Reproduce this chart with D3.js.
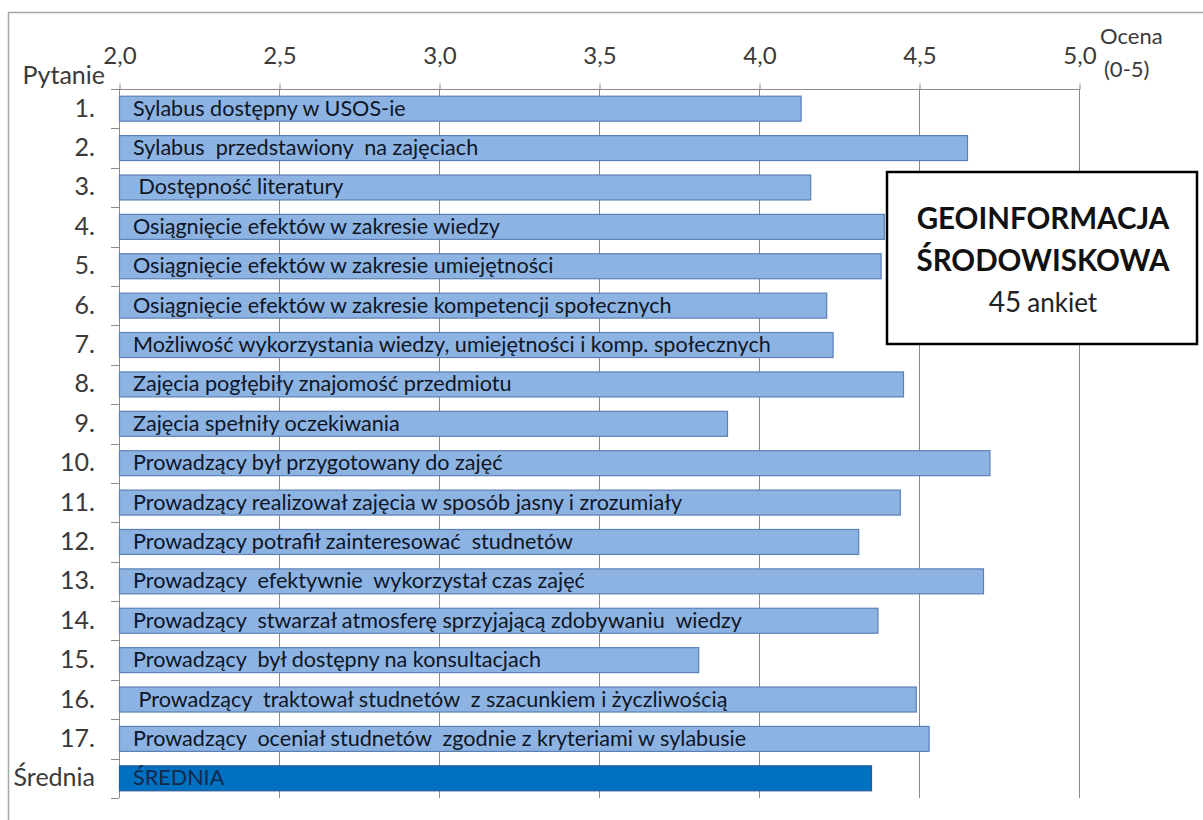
<!DOCTYPE html>
<html>
<head>
<meta charset="utf-8">
<script src="https://cdn.jsdelivr.net/npm/d3@7/dist/d3.min.js"></script>
<style>
  html, body { margin: 0; padding: 0; background: #fff; }
  svg { display: block; }
  text { font-family: Lato, "Open Sans", sans-serif; white-space: pre; }
</style>
</head>
<body>
<svg id="chart" width="1203" height="820"></svg>
<script>
// ---- data ----
const rowLabels = ["1.", "2.", "3.", "4.", "5.", "6.", "7.", "8.", "9.", "10.", "11.", "12.", "13.", "14.", "15.", "16.", "17.", "Średnia"];
const questions = [
  "Sylabus dostępny w USOS-ie",
  "Sylabus  przedstawiony  na zajęciach",
  " Dostępność literatury",
  "Osiągnięcie efektów w zakresie wiedzy",
  "Osiągnięcie efektów w zakresie umiejętności",
  "Osiągnięcie efektów w zakresie kompetencji społecznych",
  "Możliwość wykorzystania wiedzy, umiejętności i komp. społecznych",
  "Zajęcia pogłębiły znajomość przedmiotu",
  "Zajęcia spełniły oczekiwania",
  "Prowadzący był przygotowany do zajęć",
  "Prowadzący realizował zajęcia w sposób jasny i zrozumiały",
  "Prowadzący potrafił zainteresować  studnetów",
  "Prowadzący  efektywnie  wykorzystał czas zajęć",
  "Prowadzący  stwarzał atmosferę sprzyjającą zdobywaniu  wiedzy",
  "Prowadzący  był dostępny na konsultacjach",
  " Prowadzący  traktował studnetów  z szacunkiem i życzliwością",
  "Prowadzący  oceniał studnetów  zgodnie z kryteriami w sylabusie",
  "ŚREDNIA"
];
const scores = [4.13, 4.65, 4.16, 4.39, 4.38, 4.21, 4.23, 4.45, 3.90, 4.72, 4.44, 4.31, 4.70, 4.37, 3.81, 4.49, 4.53, 4.35];
const xTicks = [2.0, 2.5, 3.0, 3.5, 4.0, 4.5, 5.0];
const xDomain = [2, 5];
const yAxisTitle = "Pytanie";
const xAxisTitle = ["Ocena", "(0-5)"];
const boxTitle = ["GEOINFORMACJA", "ŚRODOWISKOWA"];
const surveyCount = "45";
const surveyWord = "ankiet";

(function () {
const rows = rowLabels.map((r, i) => ({ row: r, text: questions[i], value: scores[i], avg: i === rowLabels.length - 1 }));

// ---- layout ----
const svg = d3.select("#chart");
const mLeft = 119, mRight = 1079, mTop = 89, mBottom = 798;

// outer frame
svg.append("rect").attr("x", 8.5).attr("y", 12.5).attr("width", 1300).attr("height", 900)
  .attr("fill", "none").attr("stroke", "#a6a6a6").attr("stroke-width", 1.5);

const x = d3.scaleLinear().domain(xDomain).range([mLeft, mRight]);
const y = d3.scaleBand().domain(rowLabels).range([mTop, mBottom]).paddingInner(0.366).paddingOuter(0.183);

const gridColor = "#8a8a8a";
const labelColor = "#3a3a3a";

// gridlines
svg.append("g").selectAll("line").data(xTicks).join("line")
  .attr("x1", d => x(d) + 0.5).attr("x2", d => x(d) + 0.5)
  .attr("y1", mTop).attr("y2", mBottom)
  .attr("stroke", gridColor).attr("stroke-width", 1);

// top axis
const fmt = d => d3.format(".1f")(d).replace(".", ",");
const xAxis = svg.append("g").attr("transform", `translate(0.5,${mTop + 0.5})`)
  .call(d3.axisTop(x).tickValues(xTicks).tickFormat(fmt).tickSize(6).tickPadding(20));
xAxis.select(".domain").attr("stroke", gridColor).attr("d", `M${mLeft},0H${mRight}`);
xAxis.selectAll(".tick line").attr("stroke", gridColor);
xAxis.selectAll(".tick text").attr("font-size", 24).attr("fill", labelColor)
  .attr("font-family", "Lato, sans-serif");

// left axis (vertical line + ticks at band boundaries)
svg.append("line").attr("x1", mLeft + 0.5).attr("x2", mLeft + 0.5).attr("y1", mTop).attr("y2", mBottom)
  .attr("stroke", gridColor);
const boundaries = rowLabels.map(r => y(r) - y.step() * y.paddingInner() / 2).concat([mBottom]);
svg.append("g").selectAll("line").data(boundaries).join("line")
  .attr("x1", mLeft - 8).attr("x2", mLeft)
  .attr("y1", d => Math.round(d) + 0.5).attr("y2", d => Math.round(d) + 0.5)
  .attr("stroke", gridColor);

// bars
svg.append("g").selectAll("rect").data(rows).join("rect")
  .attr("x", x(xDomain[0]) + 0.5)
  .attr("y", d => y(d.row))
  .attr("width", d => x(d.value) - x(xDomain[0]))
  .attr("height", y.bandwidth())
  .attr("fill", d => d.avg ? "#0070c0" : "#8db3e2")
  .attr("stroke", d => d.avg ? "#2a5a9a" : "#5b80b5")
  .attr("stroke-width", 1.2);

// bar labels
svg.append("g").selectAll("text").data(rows).join("text")
  .attr("x", mLeft + 14)
  .attr("y", d => y(d.row) + y.bandwidth() / 2 + 7)
  .attr("font-size", 21.6)
  .attr("fill", d => d.avg ? "#14284a" : "#0e1626")
  .text(d => d.text);

// row labels
svg.append("g").selectAll("text").data(rows).join("text")
  .attr("x", 95)
  .attr("y", d => y(d.row) + y.bandwidth() / 2 + 8)
  .attr("text-anchor", "end")
  .attr("font-size", 25)
  .attr("fill", labelColor)
  .text(d => d.row);

// axis titles
svg.append("text").attr("x", 105).attr("y", 84).attr("text-anchor", "end")
  .attr("font-size", 25).attr("fill", labelColor).text(yAxisTitle);
svg.append("text").attr("x", 1100).attr("y", 44)
  .attr("font-size", 22).attr("fill", labelColor).text(xAxisTitle[0]);
svg.append("text").attr("x", 1104).attr("y", 77)
  .attr("font-size", 22).attr("fill", labelColor).text(xAxisTitle[1]);

// info box
svg.append("rect").attr("x", 887).attr("y", 172).attr("width", 310).attr("height", 172)
  .attr("fill", "#fff").attr("stroke", "#000").attr("stroke-width", 2.5);
const cx = 1043;
svg.append("text").attr("x", cx).attr("y", 229).attr("text-anchor", "middle")
  .attr("font-size", 29.5).attr("font-weight", "bold").attr("fill", "#111").text(boxTitle[0]);
svg.append("text").attr("x", cx).attr("y", 271).attr("text-anchor", "middle")
  .attr("font-size", 29.5).attr("font-weight", "bold").attr("fill", "#111").text(boxTitle[1]);
const t3 = svg.append("text").attr("x", cx).attr("y", 312).attr("text-anchor", "middle").attr("fill", "#222");
t3.append("tspan").attr("font-size", 28).text(surveyCount);
t3.append("tspan").attr("font-size", 26).attr("dx", 6).text(surveyWord);
})();
</script>
</body>
</html>
